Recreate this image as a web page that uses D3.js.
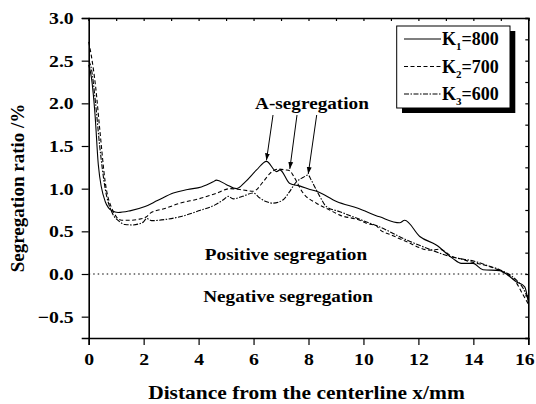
<!DOCTYPE html>
<html><head><meta charset="utf-8">
<script src="https://cdn.jsdelivr.net/npm/d3@7"></script>
<style>body{margin:0;background:#fff}svg{display:block}text{font-family:"Liberation Serif","Times New Roman",serif;font-weight:bold;fill:#000}</style>
</head><body><svg id="c" width="536" height="404"></svg>
<script>
const k1X = [0,0.1,0.23,0.35,0.6,0.85,1.07,1.5,2.05,2.5,3.08,3.6,4.1,4.53,4.65,5.0,5.38,5.7,6.11,6.47,6.84,6.96,7.32,7.7,8.05,8.29,9.02,9.8,10.59,11.32,11.5,12.05,12.65,13.26,13.56,13.99,14.35,14.96,15.56,15.87,16];
const k1Y = [2.45,2.3,1.87,1.28,0.85,0.74,0.72,0.74,0.79,0.86,0.95,0.99,1.02,1.08,1.10,1.05,1.0,1.08,1.22,1.32,1.20,1.22,1.06,1.03,0.99,0.97,0.85,0.77,0.67,0.60,0.63,0.44,0.34,0.18,0.125,0.125,0.05,0.04,-0.09,-0.15,-0.33];
const k2X = [0,0.1,0.25,0.41,0.6,0.84,1.2,1.5,1.8,2.1,2.23,2.8,3.32,4.0,4.6,5.14,5.5,5.99,6.35,6.6,6.9,7.15,7.32,7.45,7.8,8.29,8.77,9.14,9.87,10.1,10.3,10.45,10.6,11.0,11.56,12.41,12.77,13.26,13.62,13.87,14.6,14.96,15.56,15.75,16];
const k2Y = [2.72,2.55,2.2,1.67,1.08,0.77,0.63,0.63,0.64,0.67,0.71,0.77,0.83,0.88,0.94,1.0,0.99,0.97,1.08,1.18,1.23,1.22,1.21,1.15,0.95,0.83,0.75,0.69,0.63,0.595,0.58,0.57,0.52,0.46,0.38,0.28,0.29,0.20,0.17,0.145,0.086,0.04,-0.10,-0.21,-0.35];
const k3X = [0,0.1,0.25,0.4,0.6,0.85,1.1,1.32,1.6,1.85,1.99,2.11,2.29,2.8,3.32,4.0,4.6,4.9,5.08,5.26,5.6,5.99,6.23,6.45,6.71,7.08,7.3,7.56,7.8,7.99,8.1,8.41,8.65,9.14,9.87,10.6,11.56,12.41,13.0,13.5,13.9,14.6,14.96,15.56,15.8,16];
const k3Y = [2.5,2.4,2.0,1.5,1.0,0.72,0.62,0.58,0.575,0.59,0.61,0.65,0.625,0.64,0.67,0.74,0.81,0.87,0.91,0.88,0.91,0.95,0.89,0.85,0.83,0.87,0.96,1.08,1.13,1.16,1.10,0.91,0.79,0.73,0.64,0.55,0.40,0.29,0.22,0.18,0.16,0.09,0.05,-0.07,-0.16,-0.30];
const seriesNames = ["K1=800","K2=700","K3=600"];
const xTicks = [0,2,4,6,8,10,12,14,16];
const yTicks = [-0.5,0.0,0.5,1.0,1.5,2.0,2.5,3.0];
const arrowTips = [[6.47,1.32],[7.32,1.22],[7.99,1.16]];

const SX = 1.13;
function stretch(sel){
  sel.each(function(){
    const t=d3.select(this);
    const ax=+t.attr("x")||0, ay=+t.attr("y")||0;
    t.attr("transform",`translate(${ax},${ay}) scale(${SX},1) translate(${-ax},${-ay})`);
  });
}

const svg = d3.select("#c");
const L=88.7, R=528.3, T=18, B=338;
const x = d3.scaleLinear().domain([0,16]).range([L,R]);
const y = d3.scaleLinear().domain([-0.75,3.0]).range([B,T]);

const minorX = d3.range(0,16.01,1);
const minorY = d3.range(-0.75,3.001,0.25);

const gB = svg.append("g").attr("transform",`translate(0,${B})`);
gB.call(d3.axisBottom(x).tickValues(minorX).tickSize(3).tickFormat(""));
gB.call(d3.axisBottom(x).tickValues(xTicks).tickSize(7).tickPadding(8).tickFormat(d=>d));
const gL = svg.append("g").attr("transform",`translate(${L},0)`);
gL.call(d3.axisLeft(y).tickValues(minorY).tickSize(3).tickFormat(""));
gL.call(d3.axisLeft(y).tickValues(yTicks).tickSize(7).tickPadding(8).tickFormat(d3.format(".1f")));
svg.append("g").attr("transform",`translate(0,${T})`).call(d3.axisBottom(x).tickValues(minorX).tickSize(3).tickFormat(""));
svg.append("g").attr("transform",`translate(${R},0)`).call(d3.axisLeft(y).tickValues(minorY).tickSize(3).tickFormat(""));
svg.selectAll(".domain").attr("stroke","#000").attr("stroke-width",1.6);
svg.selectAll(".tick line").attr("stroke","#000").attr("stroke-width",1.2);
svg.selectAll(".tick text").style("font-size","17.5px").attr("fill","#000");
svg.selectAll("g").attr("font-family",null).attr("font-size",null);
gB.selectAll(".tick text").filter(d=>d===16).attr("x",-4);
stretch(svg.selectAll(".tick text"));

svg.append("line").attr("x1",L).attr("x2",R).attr("y1",y(0)).attr("y2",y(0))
  .attr("stroke","#000").attr("stroke-width",1).attr("stroke-dasharray","1.5,3");

const line = d3.line().x(d=>x(d[0])).y(d=>y(d[1])).curve(d3.curveMonotoneX);
const data = [d3.zip(k1X,k1Y), d3.zip(k2X,k2Y), d3.zip(k3X,k3Y)];
const dashes = [null,"4,2.5","5,1.5,1.5,1.5"];
data.forEach((d,i)=>{
  svg.append("path").datum(d).attr("d",line).attr("fill","none").attr("stroke","#000")
    .attr("stroke-width",1.1).attr("stroke-dasharray",dashes[i]);
});

const ann = [];
ann.push(svg.append("text").attr("x",312).attr("y",109).attr("text-anchor","middle").style("font-size","17px").text("A-segregation"));
const starts = [273,297,316.7];
svg.append("defs").append("marker").attr("id","ah").attr("viewBox","0 0 10 10").attr("refX",10).attr("refY",5)
  .attr("markerWidth",7).attr("markerHeight",7).attr("orient","auto-start-reverse").attr("markerUnits","userSpaceOnUse")
  .append("path").attr("d","M0,1.5L10,5L0,8.5Z").attr("fill","#000");
arrowTips.forEach((t,i)=>{
  svg.append("line").attr("x1",starts[i]).attr("y1",115).attr("x2",x(t[0])).attr("y2",y(t[1])-1)
    .attr("stroke","#000").attr("stroke-width",1).attr("marker-end","url(#ah)");
});
ann.push(svg.append("text").attr("x",286).attr("y",260).attr("text-anchor","middle").style("font-size","17px").text("Positive segregation"));
ann.push(svg.append("text").attr("x",288).attr("y",302).attr("text-anchor","middle").style("font-size","17px").text("Negative segregation"));
ann.push(svg.append("text").attr("x",306.5).attr("y",399).attr("text-anchor","middle").style("font-size","19px").text("Distance from the centerline x/mm"));
ann.forEach(stretch);
svg.append("text").attr("transform",`translate(24,${(T+B)/2+10}) rotate(-90)`).attr("text-anchor","middle").style("font-size","19px").text("Segregation ratio /%");

const lg = svg.append("g");
lg.append("rect").attr("x",402).attr("y",31).attr("width",113.3).attr("height",82).attr("fill","#000");
lg.append("rect").attr("x",396.7).attr("y",26).attr("width",113.3).attr("height",82).attr("fill","#fff").attr("stroke","#000").attr("stroke-width",1);
seriesNames.forEach((n,i)=>{
  const yy = 39 + i*27.5;
  lg.append("line").attr("x1",404).attr("x2",441).attr("y1",yy).attr("y2",yy).attr("stroke","#000")
    .attr("stroke-width",1.1).attr("stroke-dasharray",dashes[i]);
  const t = lg.append("text").attr("x",442).attr("y",yy+6).style("font-size","18px");
  const parts = n.split("=");
  t.append("tspan").text(parts[0][0]);
  t.append("tspan").attr("dy",5).style("font-size","11px").text(parts[0].slice(1));
  t.append("tspan").attr("dy",-5).text("="+parts[1]);
});
</script></body></html>
